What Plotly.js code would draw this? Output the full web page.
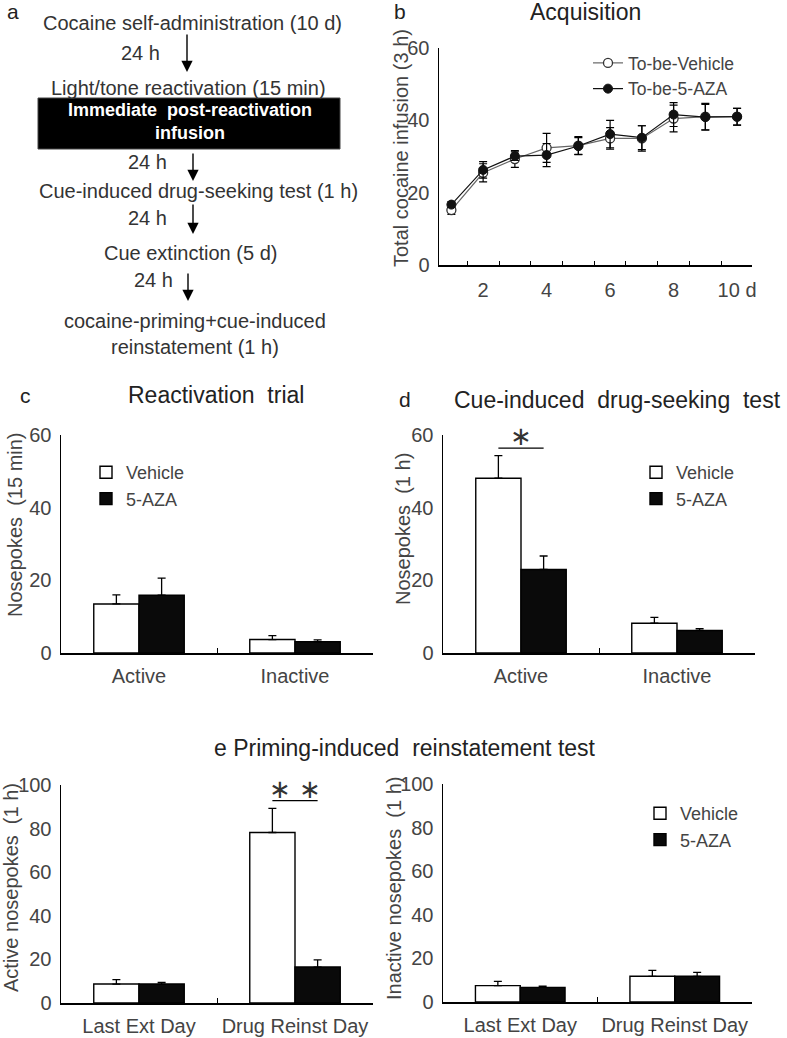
<!DOCTYPE html>
<html><head><meta charset="utf-8">
<script src="https://cdn.plot.ly/plotly-3.0.1.min.js"></script>
<style>body{margin:0;background:#fff}</style>
</head><body><div id="chart" style="width:787px;height:1038px"></div>
<script>
// ---------- data ----------
const days = [1,2,3,4,5,6,7,8,9,10];
const vehAcq = [15.2,25.5,29.3,32.4,33.0,35.0,35.0,40.5,41.0,41.0];
const vehAcqErr = [1.2,2.5,2.3,4.0,2.5,3.0,3.5,3.7,3.7,2.3];
const azaAcq = [16.7,26.3,30.1,30.4,32.9,36.2,35.2,41.6,40.9,41.0];
const azaAcqErr = [0.8,2.3,1.2,3.2,2.3,3.8,3.3,3.3,3.5,2.3];
const dayTicks = [2,4,6,8,10];
const dayTickText = ['2','4','6','8','10 d'];

const leverCats = ['Active','Inactive'];
const reactVeh = [13.5,3.7];  const reactVehErr = [2.5,1.1];
const reactAza = [15.9,3.1];  const reactAzaErr = [4.7,0.5];
const cueVeh = [48.1,8.2];    const cueVehErr = [6.2,1.6];
const cueAza = [23.0,6.2];    const cueAzaErr = [3.7,0.5];

const dayCats = ['Last Ext Day','Drug Reinst Day'];
const primeActVeh = [8.7,78.2];   const primeActVehErr = [2.0,11.1];
const primeActAza = [8.7,16.5];   const primeActAzaErr = [0.8,3.3];
const primeInVeh = [7.5,11.8];    const primeInVehErr = [2.0,2.7];
const primeInAza = [6.7,11.8];    const primeInAzaErr = [0.6,1.8];

const groupNames = ['Vehicle','5-AZA'];
const acqNames = ['To-be-Vehicle','To-be-5-AZA'];

const steps = ['Cocaine self-administration (10 d)','Light/tone reactivation (15 min)',
  'Immediate  post-reactivation<br>infusion','Cue-induced drug-seeking test (1 h)',
  'Cue extinction (5 d)','cocaine-priming+cue-induced<br>reinstatement (1 h)'];
const intervalLabel = '24 h';

// ---------- helpers ----------
const W = 787, H = 1038;
const fx = p => p / W;
const fy = p => 1 - p / H;
const FONT = 'Liberation Sans, Arial, sans-serif';
const TXT = '#333';
const bargap = 0.42;

function errUp(arr){ return {type:'data', array:arr, arrayminus:arr.map(()=>0), symmetric:false,
  color:'black', thickness:1.3, width:4}; }

function barPair(x, v, ve, a, ae, xa, ya, legend, show){
  return [
    {type:'bar', x:x, y:v, name:groupNames[0], xaxis:xa, yaxis:ya, legend:legend, showlegend:show,
     marker:{color:'white', line:{color:'black', width:1.4}}, error_y:errUp(ve)},
    {type:'bar', x:x, y:a, name:groupNames[1], xaxis:xa, yaxis:ya, legend:legend, showlegend:show,
     marker:{color:'#0a0a0a', line:{color:'black', width:1.4}}, error_y:errUp(ae)}
  ];
}

const traces = [
  {type:'scatter', mode:'lines+markers', x:days, y:vehAcq, name:acqNames[0], xaxis:'x', yaxis:'y',
   line:{color:'#666', width:1.2}, marker:{symbol:'circle', size:9, color:'white', line:{color:'#333', width:1.3}},
   error_y:{type:'data', array:vehAcqErr, color:'black', thickness:1.2, width:4}},
  {type:'scatter', mode:'lines+markers', x:days, y:azaAcq, name:acqNames[1], xaxis:'x', yaxis:'y',
   line:{color:'#111', width:1.2}, marker:{symbol:'circle', size:9, color:'#111', line:{color:'#111', width:1}},
   error_y:{type:'data', array:azaAcqErr, color:'black', thickness:1.2, width:4}},
  ...barPair(leverCats, reactVeh, reactVehErr, reactAza, reactAzaErr, 'x2','y2','legend2', true),
  ...barPair(leverCats, cueVeh, cueVehErr, cueAza, cueAzaErr, 'x3','y3','legend3', true),
  ...barPair(dayCats, primeActVeh, primeActVehErr, primeActAza, primeActAzaErr, 'x4','y4','legend4', false),
  ...barPair(dayCats, primeInVeh, primeInVehErr, primeInAza, primeInAzaErr, 'x5','y5','legend4', true)
];

const tickFont = {family:FONT, size:20, color:'#444'};
function yax(domain, range, dtick){
  return {domain:domain, range:range, dtick:dtick, tick0:0, showline:true, linecolor:'black', linewidth:1.5,
    ticks:'', showgrid:false, zeroline:false, tickfont:tickFont, ticklabelstandoff:4, fixedrange:true};
}
function xcat(domain, anchor){
  return {domain:domain, anchor:anchor, type:'category', range:[-0.5,1.5], showline:true, linecolor:'black',
    linewidth:1.5, ticks:'inside', tickson:'boundaries', ticklen:5, tickcolor:'black', showgrid:false,
    zeroline:false, tickfont:tickFont, ticklabelstandoff:4};
}

function leg(xp, yp, size){ return {x:fx(xp), y:fy(yp), xanchor:'left', yanchor:'top',
  font:{family:FONT, size:size, color:'#444'},
  bgcolor:'rgba(0,0,0,0)', borderwidth:0, tracegroupgap:0, itemwidth:30}; }

const layout = {
  width:W, height:H, margin:{l:0,r:0,t:0,b:0}, paper_bgcolor:'white', plot_bgcolor:'white',
  font:{family:FONT, color:TXT}, barmode:'group', bargap:bargap, bargroupgap:0,
  xaxis:{domain:[fx(439),fx(752)], anchor:'y', range:[0.61,10.47], tickvals:dayTicks, ticktext:dayTickText,
    showline:true, linecolor:'black', linewidth:1.5, ticks:'', showgrid:false, zeroline:false,
    tickfont:tickFont, ticklabelstandoff:6,
    minor:{ticks:'inside', tick0:0.5, dtick:1, ticklen:4, tickcolor:'black', showgrid:false}},
  yaxis:yax([fy(265),fy(48)], [0,60], 20),
  xaxis2:xcat([fx(61),fx(373)], 'y2'),
  yaxis2:Object.assign(yax([fy(653),fy(435)], [0,60], 20), {anchor:'x2'}),
  xaxis3:xcat([fx(443),fx(755)], 'y3'),
  yaxis3:Object.assign(yax([fy(653),fy(435)], [0,60], 20), {anchor:'x3'}),
  xaxis4:xcat([fx(61),fx(373)], 'y4'),
  yaxis4:Object.assign(yax([fy(1003),fy(785)], [0,100], 20), {anchor:'x4'}),
  xaxis5:xcat([fx(443),fx(752)], 'y5'),
  yaxis5:Object.assign(yax([fy(1002),fy(784)], [0,100], 20), {anchor:'x5'}),
  legend:leg(588, 45, 17.5),
  legend2:leg(86, 454, 18),
  legend3:leg(636, 454, 18),
  legend4:leg(640, 795, 18),
  shapes:[], annotations:[]
};

// significance markers computed from data
const halfOff = (1 - bargap) / 4;
function sig(ci, veh, vehE, aza, azaE, range, xa, ya, txt){
  const top = Math.max(veh[ci]+vehE[ci], aza[ci]+azaE[ci]);
  const ly = top + 0.035*range;
  layout.shapes.push({type:'line', xref:xa, yref:ya, x0:ci-halfOff, x1:ci+halfOff, y0:ly, y1:ly,
    line:{color:'black', width:1.3}});
  layout.annotations.push({xref:xa, yref:ya, x:ci, y:ly, yanchor:'middle', showarrow:false, text:txt,
    yshift:12, font:{family:'DejaVu Sans', size:26, color:'#333'}});
}
sig(0, cueVeh, cueVehErr, cueAza, cueAzaErr, 60, 'x3', 'y3', '∗');
sig(1, primeActVeh, primeActVehErr, primeActAza, primeActAzaErr, 100, 'x4', 'y4', '∗ ∗');

// text annotations (titles, panel letters, y titles)
function txt(text, x, y, size, opts){
  layout.annotations.push(Object.assign({xref:'paper', yref:'paper', x:fx(x), y:fy(y), text:text,
    showarrow:false, xanchor:'center', yanchor:'middle', font:{family:FONT, size:size, color:'#222'}}, opts||{}));
}
txt('a', 13, 12, 21);
txt('b', 400, 12, 21);
txt('Acquisition', 585, 12, 23);
txt('c', 25, 395, 21);
txt('Reactivation  trial', 216, 395, 23);
txt('d', 405, 400, 21);
txt('Cue-induced  drug-seeking  test', 617, 400, 23);
txt('e Priming-induced  reinstatement test', 405, 748, 23);
const yt = (t, x, y) => txt(t, x, y, 20, {textangle:-90, font:{family:FONT, size:20, color:'#444'}});
yt('Total cocaine infusion (3 h)', 401, 148);
yt('Nosepokes  (15 min)', 15, 525);
yt('Nosepokes  (1 h)', 403, 529);
yt('Active nosepokes  (1 h)', 11, 888);
yt('Inactive nosepokes  (1 h)', 394, 889);

// panel a flowchart
layout.shapes.push({type:'rect', xref:'paper', yref:'paper', x0:fx(38), x1:fx(340), y0:fy(149), y1:fy(98),
  fillcolor:'black', line:{color:'#444', width:1}});
const stepPos = [[192,23],[188,88],[190,122],[199,191],[190,253],[195,334]];
steps.forEach((s,i)=>{
  if(i===2){
    txt('<b>'+s+'</b>', stepPos[i][0], stepPos[i][1], 18, {font:{family:FONT, size:18, color:'white'}});
  } else {
    txt(s, stepPos[i][0], stepPos[i][1], 20, {font:{family:FONT, size:20, color:'#333'}});
  }
});
const arrows = [[187,33,72,140,53],[193,152,181,147,162],[193,203,234,147,218],[188,272,301,153,280]];
arrows.forEach(a=>{
  layout.annotations.push({xref:'paper', yref:'paper', x:fx(a[0]), y:fy(a[2]), ax:fx(a[0]), ay:fy(a[1]),
    axref:'paper', ayref:'paper', text:'', showarrow:true, arrowhead:2, arrowsize:1.6, arrowwidth:1.4,
    arrowcolor:'black'});
  txt(intervalLabel, a[3], a[4], 20, {font:{family:FONT, size:20, color:'#333'}});
});

Plotly.newPlot('chart', traces, layout, {staticPlot:true});
</script></body></html>
